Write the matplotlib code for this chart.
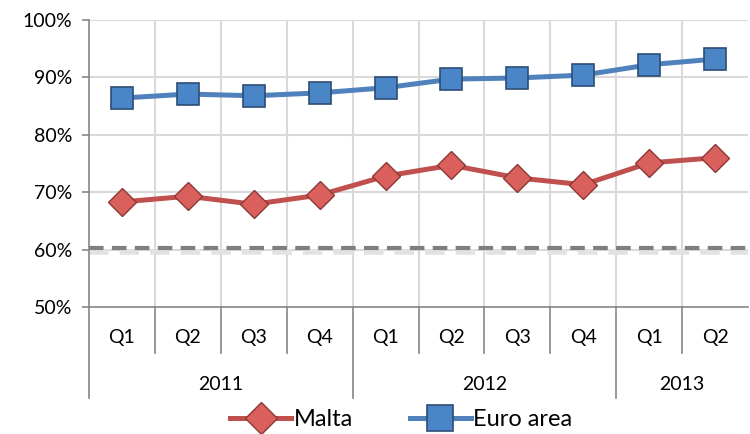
import matplotlib
matplotlib.use("Agg")
import matplotlib.pyplot as plt
import matplotlib.transforms as mtransforms
from matplotlib.ticker import FuncFormatter

plt.rcParams['font.family'] = ['Lato', 'DejaVu Sans']

quarters = ["Q1", "Q2", "Q3", "Q4", "Q1", "Q2", "Q3", "Q4", "Q1", "Q2"]
years = ["2011", "2012", "2013"]
year_spans = [(0, 4), (4, 8), (8, 10)]
malta = [68.3, 69.3, 67.9, 69.5, 72.8, 74.7, 72.5, 71.3, 75.1, 76.0]
euro_area = [86.4, 87.1, 86.8, 87.3, 88.2, 89.7, 89.9, 90.4, 92.2, 93.2]
threshold = 60.3

fig = plt.figure(figsize=(7.5, 4.34), dpi=100)
ax = fig.add_axes([89 / 750, (434 - 307) / 434, (748 - 89) / 750, (307 - 20) / 434])

x = list(range(len(quarters)))
grid_col = "#d9d9d9"
axis_col = "#868686"

ax.set_xlim(-0.5, len(quarters) - 0.5)
ax.set_ylim(50, 100)
ax.set_yticks(range(50, 101, 10))
ax.yaxis.set_major_formatter(FuncFormatter(lambda v, p: "%d%%" % v))
ax.tick_params(axis='y', labelsize=14, length=5, color=axis_col, width=1.2, pad=7)
ax.set_xticks([])
for v in range(60, 101, 10):
    ax.axhline(v, color=grid_col, lw=1.5, zorder=0)
for b in range(1, len(quarters)):
    ax.axvline(b - 0.5, color=grid_col, lw=1.5, zorder=0)
for s in ["top", "right"]:
    ax.spines[s].set_visible(False)
for s in ["left", "bottom"]:
    ax.spines[s].set_color(axis_col)
    ax.spines[s].set_linewidth(1.2)

# threshold line with soft shadow
ax.axhline(threshold - 0.7, color="#e2e2e2", lw=4, dashes=(3.5, 2), zorder=1)
ax.axhline(threshold, color="#7f7f7f", lw=3, dashes=(3.5, 2), zorder=2)

ax.plot(x, malta, color="#C0504D", lw=3.6, marker="D", markersize=14,
        markerfacecolor="#D9605C", markeredgecolor="#8C3836", markeredgewidth=1,
        label="Malta", zorder=4)
ax.plot(x, euro_area, color="#4F81BD", lw=3.6, marker="s", markersize=16,
        markerfacecolor="#4A85C8", markeredgecolor="#2C4D75", markeredgewidth=1.2,
        label="Euro area", zorder=4)

# multi-level category axis
trans = mtransforms.blended_transform_factory(ax.transData, ax.transAxes)
h = (307 - 20)
def ay(py):
    return (307 - py) / h

for i, q in enumerate(quarters):
    ax.text(i, ay(338), q, transform=trans, ha="center", va="center", fontsize=14)
for b in range(0, len(quarters)):
    bottom = 398 if b in (0, 4, 8) else 353
    ax.plot([b - 0.5, b - 0.5], [0, ay(bottom)], transform=trans, color=axis_col,
            lw=1.2, clip_on=False)
for (a, bnd), yr in zip(year_spans, years):
    ax.text((a + bnd - 1) / 2, ay(385), yr, transform=trans, ha="center", va="center",
            fontsize=14)

fig.legend(loc="lower center", ncol=2, frameon=False, fontsize=17,
           bbox_to_anchor=(0.535, -0.04), handlelength=2.6, columnspacing=2.4,
           handletextpad=0.1, markerscale=1.15)

fig.savefig("out.png", dpi=100)
